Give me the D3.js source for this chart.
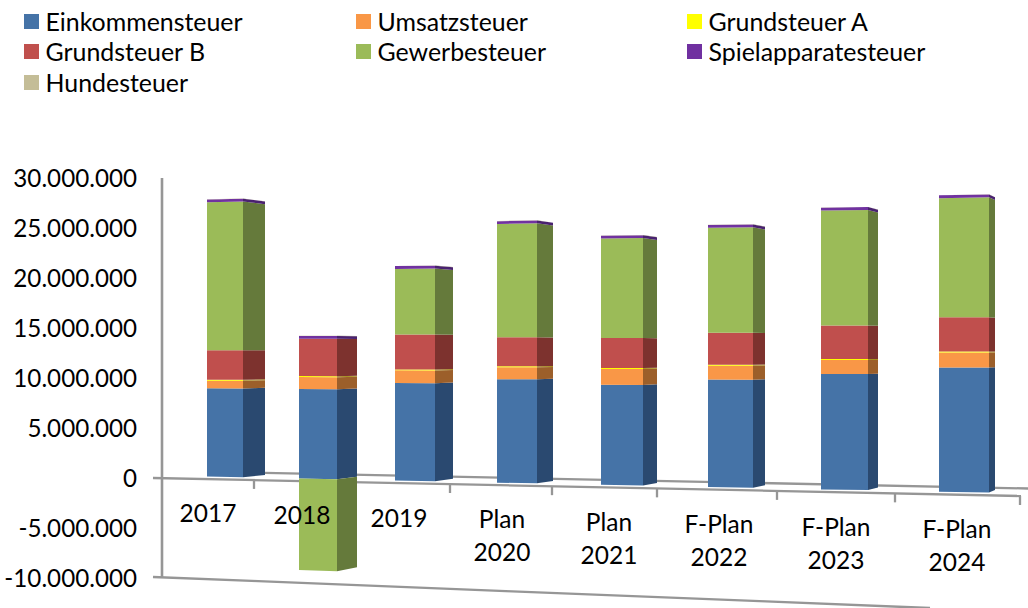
<!DOCTYPE html>
<html><head><meta charset="utf-8">
<script src="https://cdn.jsdelivr.net/npm/d3@7"></script>
<style>html,body{margin:0;padding:0;background:#fff}svg{display:block}text{font-family:Lato,"Noto Sans",sans-serif;fill:#000}</style>
</head><body><div id="c"></div>
<script>
const categories=[["2017"],["2018"],["2019"],["Plan","2020"],["Plan","2021"],["F-Plan","2022"],["F-Plan","2023"],["F-Plan","2024"]];
const seriesNames=["Einkommensteuer","Umsatzsteuer","Grundsteuer A","Grundsteuer B","Gewerbesteuer","Spielapparatesteuer","Hundesteuer"];
const seriesColors=["#4573a7","#f99746","#ffff00","#c0504d","#9bbb59","#7030a0","#c4bd97"];
const sideColors=["#2b4a70","#9c5f2c","#a89020","#7d312f","#657a3a","#4a2070","#857f60"];
const einkommen=[8870000,9000000,9800000,10400000,10050000,10800000,11600000,12500000];
const umsatz=[770000,1200000,1270000,1200000,1600000,1400000,1400000,1500000];
const grundA=[100000,100000,100000,100000,100000,100000,100000,100000];
const grundB=[2970000,3740000,3500000,2900000,3000000,3200000,3370000,3440000];
const gewerbe=[14860000,-9200000,6600000,11400000,10000000,10550000,11550000,11980000];
const spiel=[280000,280000,280000,280000,280000,280000,280000,280000];
const hunde=[20000,20000,20000,20000,20000,20000,20000,20000];
const yTicks=[30000000,25000000,20000000,15000000,10000000,5000000,0,-5000000,-10000000];

const W=1028,H=608,LINE="#969696";
const svg=d3.select("#c").append("svg").attr("width",W).attr("height",H);
const defs=svg.append("defs");
defs.append("filter").attr("id","soft").attr("x","-5%").attr("y","-5%").attr("width","110%").attr("height","110%")
  .append("feGaussianBlur").attr("stdDeviation",0.45);

const idx=d3.range(categories.length);
const rows=idx.map(i=>({i,a:einkommen[i],b:umsatz[i],c:grundA[i],d:grundB[i],e:gewerbe[i],f:spiel[i],g:hunde[i]}));
const keys=["a","b","c","d","e","f","g"];
const stack=d3.stack().keys(keys).offset(d3.stackOffsetDiverging)(rows);

const y=d3.scaleLinear().domain([-10000000,30000000]).range([578,178]);
const frontLeft=d3.scaleLinear().domain(idx).range([207,299,395,497,601,708,821,939]);
const frontRight=d3.scaleLinear().domain(idx).range([243,337,435,537,643,753,868,989]);
const sideRight=d3.scaleLinear().domain(idx).range([265,357,453,553,657,765,878,995]);
const tickX=d3.scaleLinear().domain(idx).range([254,350,450,552,657,777,895,1020]);
const labelX=d3.scaleLinear().domain(idx).range([208,302,399,502,609,719,836,957]);
const floorFront=d3.scaleLinear().domain([163,1021]).range([478,496]);
const floorBack=d3.scaleLinear().domain([245,1028]).range([472.5,488.5]);
const labelY=d3.scaleLinear().domain([0,7]).range([514,531]);

const VANISH=350;
const faceY=(px,k)=>px+(VANISH-px)*k;

// floor and walls
const g=svg.append("g").attr("filter","url(#soft)");
const line=(x1,y1,x2,y2,w=2.3)=>g.append("line").attr("x1",x1).attr("y1",y1).attr("x2",x2).attr("y2",y2).attr("stroke",LINE).attr("stroke-width",w);
line(245,floorBack(245),1028,floorBack(1028));
line(162,178,162,578,2.6);
line(153,577,930,608);
line(153,478,1021,496);

// y axis
const axis=d3.axisLeft(y).tickValues(yTicks).tickSize(9).tickPadding(16)
  .tickFormat(d3.formatLocale({decimal:",",thousands:".",grouping:[3],currency:["","€"],minus:"-"}).format(",d"));
const ax=svg.append("g").attr("transform","translate(162,0)").call(axis);
ax.select(".domain").remove();
ax.selectAll(".tick line").attr("stroke",LINE).attr("stroke-width",2.3).attr("filter","url(#soft)");
ax.selectAll(".tick text").attr("font-size",24.2).attr("fill","#000").attr("x",-25).attr("dy","0.34em");

// category ticks
idx.forEach(i=>{const x=tickX(i),y0=floorFront(x);line(x,y0,x,y0+9);});

// bars
const pts=a=>a.map(p=>p.join(",")).join(" ");
const bars=svg.append("g").attr("filter","url(#soft)");
idx.forEach(i=>{
  const xl=frontLeft(i),xr=frontRight(i),xs=sideRight(i);
  const base=floorFront((xl+xs)/2)-2.3;
  const py=v=>base+y(v)-y(0);
  stack.forEach((s,si)=>{
    const [v0,v1]=s[i];
    if(v0===v1) return;
    const yb=py(v0),yt=py(v1);
    bars.append("polygon").attr("fill",sideColors[si])
      .attr("points",pts([[xr,yb],[xs,faceY(yb,0.018)],[xs,faceY(yt,0.018)],[xr,yt]]));
    bars.append("polygon").attr("fill",seriesColors[si])
      .attr("points",pts([[xl,faceY(yb,0.005)],[xr,yb],[xr,yt],[xl,faceY(yt,0.005)]]));
  });
});

// category labels
idx.forEach(i=>{
  const t=svg.append("text").attr("font-size",24.5).attr("text-anchor","middle");
  categories[i].forEach((s,j)=>{
    const n=categories[i].length;
    const cy=n===1?labelY(i):labelY(i)+(j===0?-1:32);
    t.append("tspan").attr("x",labelX(i)).attr("y",cy+8).text(s);
  });
});

// legend
const legX=[24,356,687],legY=[22,52,83];
seriesNames.forEach((n,i)=>{
  const col=i%3,row=Math.floor(i/3);
  svg.append("rect").attr("x",legX[col]).attr("y",legY[row]-8).attr("width",15).attr("height",15).attr("fill",seriesColors[i]);
  svg.append("text").attr("x",legX[col]+21.5).attr("y",legY[row]+8.5).attr("font-size",24.9).text(n);
});
</script></body></html>
